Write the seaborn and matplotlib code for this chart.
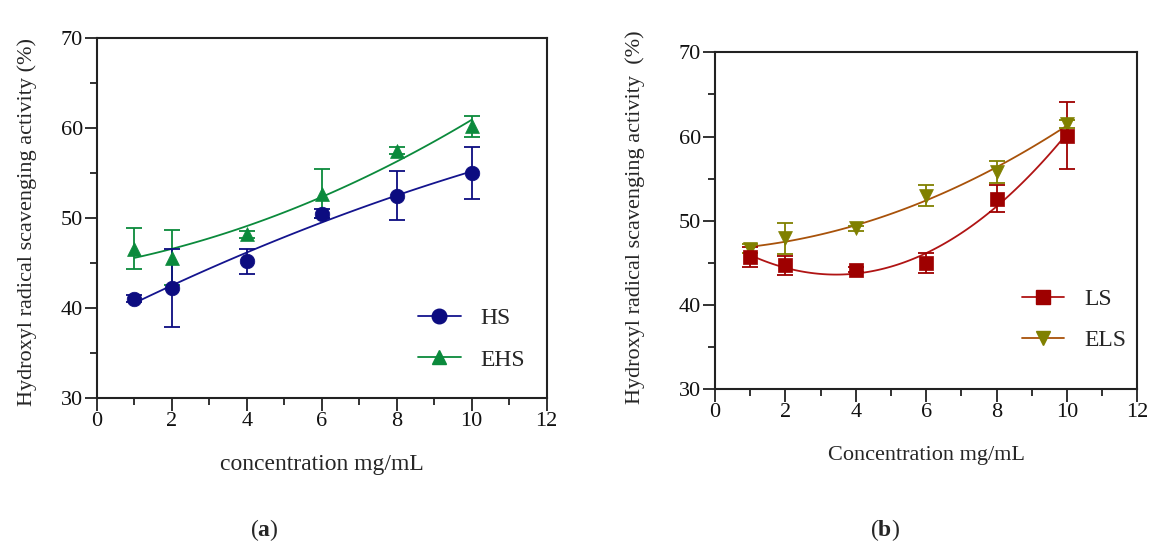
import numpy as np
import pandas as pd
import matplotlib
matplotlib.use("Agg")
import matplotlib.pyplot as plt
from matplotlib.lines import Line2D
from matplotlib.ticker import MultipleLocator
import seaborn as sns

# concentrazioni (mg/mL)
conc = [1, 2, 4, 6, 8, 10]

# pannello (a)
hs = [41.0, 42.2, 45.2, 50.5, 52.5, 55.0]
hs_err = [0.4, 4.3, 1.4, 0.5, 2.7, 2.9]
ehs = [46.6, 45.6, 48.2, 52.7, 57.5, 60.2]
ehs_err = [2.3, 3.1, 0.4, 2.7, 0.4, 1.2]

# pannello (b)
ls = [45.7, 44.7, 44.2, 45.0, 52.6, 60.1]
ls_err = [1.2, 1.1, 0.3, 1.2, 1.6, 4.0]
els = [46.7, 47.9, 49.1, 53.0, 55.8, 61.5]
els_err = [0.5, 1.8, 0.3, 1.2, 1.3, 0.5]

x_ticks = [0, 2, 4, 6, 8, 10, 12]
y_ticks = [30, 40, 50, 60, 70]

sns.set_theme(style="ticks")
plt.rcParams['font.family'] = ['Liberation Serif', 'DejaVu Serif']
plt.rcParams['mathtext.fontset'] = 'custom'
plt.rcParams['mathtext.rm'] = 'Liberation Serif'
plt.rcParams['mathtext.bf'] = 'Liberation Serif:bold'

fig = plt.figure(figsize=(11.56, 5.45), dpi=100)
ax1 = fig.add_axes([0.0839, 0.2703, 0.389, 0.6594])
ax2 = fig.add_axes([0.6185, 0.2857, 0.3653, 0.6183])


def draw_series(ax, y, err, marker, mcolor, lcolor, msize, label):
    df = pd.DataFrame({'conc': conc, 'val': y})
    # curva di fit quadratica
    sns.regplot(data=df, x='conc', y='val', order=2, ci=None, scatter=False,
                ax=ax, line_kws={'color': lcolor, 'lw': 1.3, 'zorder': 2})
    ax.errorbar(conc, y, yerr=err, fmt='none', ecolor=mcolor, elinewidth=1.3,
                capsize=5.5, capthick=1.3, zorder=3)
    sns.scatterplot(data=df, x='conc', y='val', marker=marker, color=mcolor,
                    s=msize ** 2, edgecolor=mcolor, linewidth=0.5, ax=ax, zorder=4)
    return Line2D([], [], color=lcolor, lw=1.3, marker=marker, markersize=msize,
                  markerfacecolor=mcolor, markeredgecolor=mcolor, label=label)


h_ehs = draw_series(ax1, ehs, ehs_err, '^', '#0b8a3c', '#0b8a3c', 10, 'EHS')
h_hs = draw_series(ax1, hs, hs_err, 'o', '#0c0c80', '#14148e', 10.5, 'HS')

h_els = draw_series(ax2, els, els_err, 'v', '#808000', '#a8520a', 10, 'ELS')
h_ls = draw_series(ax2, ls, ls_err, 's', '#9e0000', '#b01414', 9.5, 'LS')

for ax in (ax1, ax2):
    ax.set_xlim(0, 12)
    ax.set_ylim(30, 70)
    ax.set_xticks(x_ticks)
    ax.set_yticks(y_ticks)
    ax.xaxis.set_minor_locator(MultipleLocator(1))
    ax.yaxis.set_minor_locator(MultipleLocator(5))
    ax.tick_params(which='major', length=9, width=1.3, labelsize=16, pad=1,
                   color='#222222', labelcolor='#111111')
    ax.tick_params(which='minor', length=5, width=1.3, color='#222222')
    for s in ax.spines.values():
        s.set_linewidth(1.5)
        s.set_color('#222222')
        s.set_visible(True)
    ax.set_facecolor('white')

ax1.set_ylabel("Hydroxyl radical scavenging activity (%)", fontsize=16)
ax1.set_xlabel("concentration mg/mL", fontsize=17)
ax1.yaxis.set_label_coords(-0.133, 0.49)
ax1.xaxis.set_label_coords(0.5, -0.158)

ax2.set_ylabel("Hydroxyl radical scavenging activity  (%)", fontsize=16)
ax2.set_xlabel("Concentration mg/mL", fontsize=16)
ax2.yaxis.set_label_coords(-0.166, 0.51)
ax2.xaxis.set_label_coords(0.5, -0.168)

leg_kw = dict(frameon=False, fontsize=17, numpoints=1, handlelength=1.8,
              handletextpad=0.85, labelspacing=0.85, borderpad=0,
              borderaxespad=0, loc='center left')
ax1.legend(handles=[h_hs, h_ehs], bbox_to_anchor=(0.714, 0.163), **leg_kw)
ax2.legend(handles=[h_ls, h_els], bbox_to_anchor=(0.726, 0.206), **leg_kw)

fig.text(264 / 1156, 1 - 530 / 545, r"($\mathbf{a}$)", fontsize=17,
         ha='center', va='center')
fig.text(885 / 1156, 1 - 530 / 545, r"($\mathbf{b}$)", fontsize=17,
         ha='center', va='center')

fig.savefig("out.png", dpi=100, facecolor='white')
